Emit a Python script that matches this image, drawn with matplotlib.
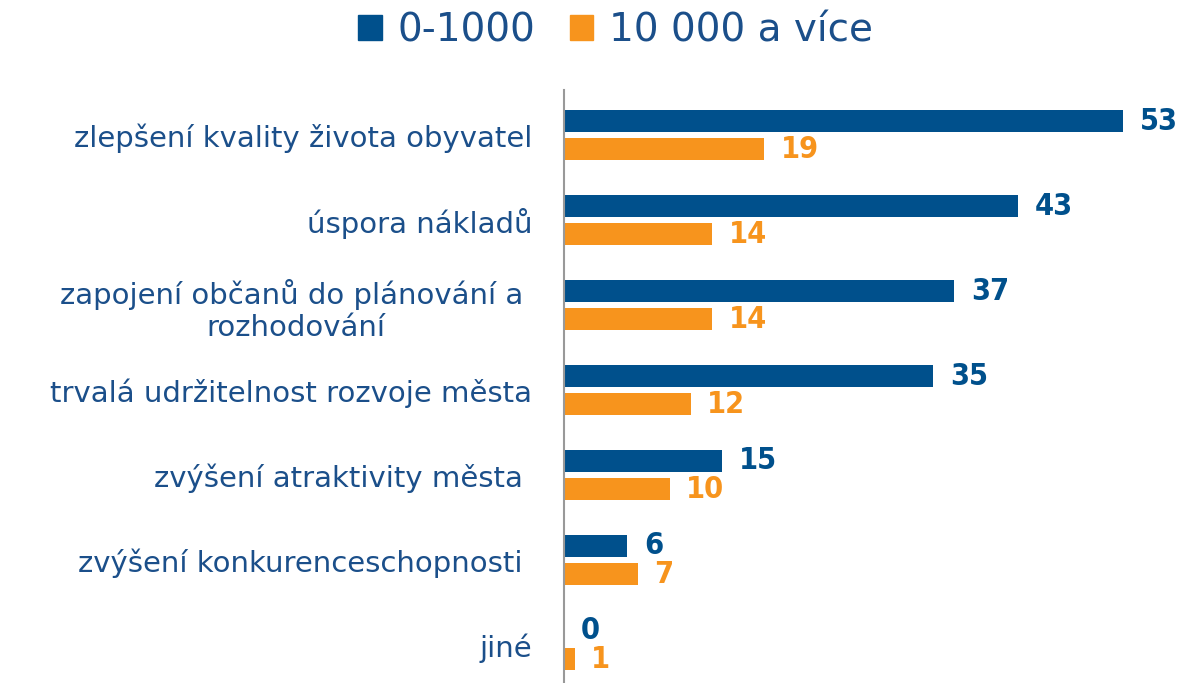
import matplotlib
matplotlib.use("Agg")
import matplotlib.pyplot as plt
from matplotlib.patches import Patch
import numpy as np

categories = [
    "zlepšení kvality života obyvatel",
    "úspora nákladů",
    "zapojení občanů do plánování a \nrozhodování",
    "trvalá udržitelnost rozvoje města",
    "zvýšení atraktivity města ",
    "zvýšení konkurenceschopnosti ",
    "jiné",
]
series_names = ["0-1000", "10 000 a více"]
small = [53, 43, 37, 35, 15, 6, 0]
large = [19, 14, 14, 12, 10, 7, 1]

BLUE = "#00508C"
ORANGE = "#F7941D"
TEXT = "#1B4F8A"

fig = plt.figure(figsize=(11.78, 6.83), dpi=100)
W, H = 1178, 683
left, right, top, bottom = 564, 1176, 90, 683
ax = fig.add_axes([left / W, 1 - bottom / H, (right - left) / W, (bottom - top) / H])

y = np.arange(len(categories))
h = 0.259
off = 0.165
ax.barh(y - off, small, height=h, color=BLUE)
ax.barh(y + off, large, height=h, color=ORANGE)

ax.set_xlim(0, 58)
ax.set_ylim(6.447, -0.53)

for s in ["top", "right", "bottom"]:
    ax.spines[s].set_visible(False)
ax.spines["left"].set_color("#999999")
ax.spines["left"].set_linewidth(1.5)
ax.set_xticks([])
ax.set_yticks(y)
ax.set_yticklabels(categories, fontsize=21, color=TEXT, multialignment="center")
ax.tick_params(axis="y", length=0, pad=23)

vfont = dict(family="DejaVu Sans", fontstretch="condensed", fontweight="bold", fontsize=22)
for i, (a, b) in enumerate(zip(small, large)):
    ax.annotate(str(a), (a, i - off), xytext=(12, 0), textcoords="offset points",
                va="center", ha="left", color=BLUE, **vfont)
    ax.annotate(str(b), (b, i + off), xytext=(12, 0), textcoords="offset points",
                va="center", ha="left", color=ORANGE, **vfont)

handles = [Patch(color=BLUE), Patch(color=ORANGE)]
leg = fig.legend(handles, series_names, loc="center", bbox_to_anchor=(0.5225, 1 - 30 / H),
                 ncol=2, frameon=False, fontsize=28, handlelength=0.6, handleheight=0.6,
                 handletextpad=0.4, columnspacing=0.9)
for t in leg.get_texts():
    t.set_color(TEXT)

fig.savefig("out.png", dpi=100)
